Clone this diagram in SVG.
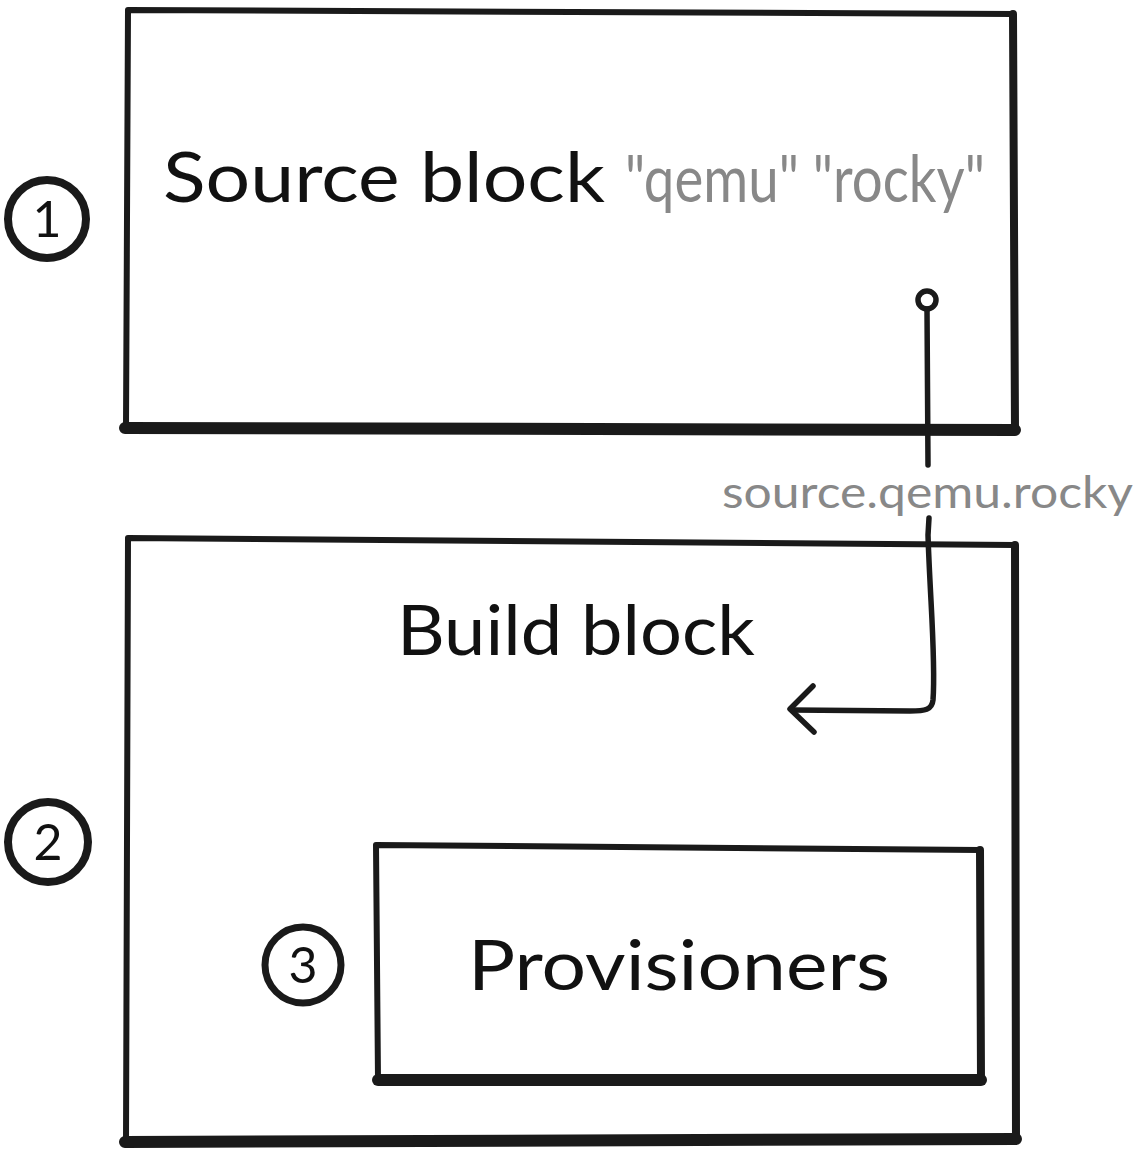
<svg xmlns="http://www.w3.org/2000/svg" width="1133" height="1160" viewBox="0 0 1133 1160">
<style>
.edge{fill:none;stroke:#1a1a1a;stroke-width:6;stroke-linecap:round;stroke-linejoin:round}
.thick{fill:none;stroke:#1a1a1a;stroke-width:12;stroke-linecap:round}
.mid{fill:none;stroke:#1a1a1a;stroke-width:8;stroke-linecap:round}
.big{font-family:"Lato","Liberation Sans",sans-serif;font-size:70px;fill:#111}
.grey{font-family:"Lato","Liberation Sans",sans-serif;fill:#888}
.num{font-family:"Lato","Liberation Sans",sans-serif;font-size:50px;fill:#111;text-anchor:middle}
.conn{fill:none;stroke:#1a1a1a;stroke-width:5.5;stroke-linecap:round;stroke-linejoin:round}
</style>
<rect width="1133" height="1160" fill="#fff"/>
<g id="source-block">
<path class="edge" d="M126,428 L128,10 L1013,14"/>
<path class="mid" d="M1013,14 L1015,430"/>
<path class="thick" d="M125,428 L1015,430"/>
<text class="big" x="163" y="202" textLength="442" lengthAdjust="spacingAndGlyphs">Source block</text>
<text class="grey" x="625" y="202" font-size="66" textLength="360" lengthAdjust="spacingAndGlyphs">"qemu" "rocky"</text>
</g>
<g id="build-block">
<path class="edge" d="M126,1142 L128,538 L1015,545"/>
<path class="mid" d="M1015,545 L1016,1140"/>
<path class="thick" d="M125,1142 L1016,1139"/>
<text class="big" x="397" y="655" textLength="358" lengthAdjust="spacingAndGlyphs">Build block</text>
</g>
<g id="provisioners">
<path class="edge" d="M378,1080 L376,845 L980,850"/>
<path class="mid" d="M980,850 L981,1080"/>
<path class="thick" d="M378,1080 L981,1080"/>
<text class="big" x="468" y="990" textLength="422" lengthAdjust="spacingAndGlyphs">Provisioners</text>
</g>
<g id="badge-1">
<circle cx="47" cy="219" r="39" fill="none" stroke="#1a1a1a" stroke-width="8"/>
<text class="num" x="47" y="237">1</text>
</g>
<g id="badge-2">
<circle cx="48" cy="842" r="40" fill="none" stroke="#1a1a1a" stroke-width="8"/>
<text class="num" x="48" y="860">2</text>
</g>
<g id="badge-3">
<circle cx="303" cy="965" r="38" fill="none" stroke="#1a1a1a" stroke-width="7"/>
<text class="num" x="303" y="983">3</text>
</g>
<g id="connectors">
<circle cx="927" cy="300" r="9" fill="#fff" stroke="#1a1a1a" stroke-width="5.5"/>
<path class="conn" d="M927,309 L928,465"/>
<path class="conn" d="M929,518 L928,535 C930,600 936,660 933,700 C932,710 925,711 910,711 L792,710"/>
<path class="conn" d="M813,686 L790,709 L814,732"/>
<text class="grey" x="722" y="508" font-size="44" textLength="411" lengthAdjust="spacingAndGlyphs">source.qemu.rocky</text>
</g>
</svg>
